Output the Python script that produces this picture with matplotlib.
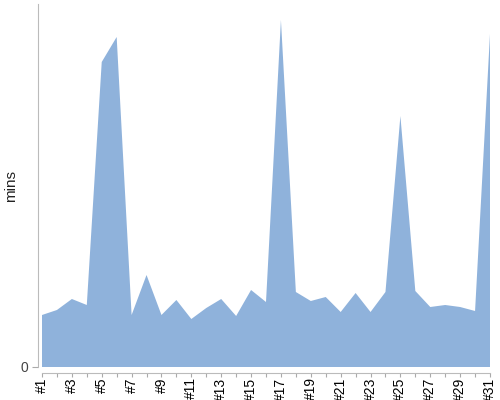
import matplotlib
matplotlib.use("Agg")
import matplotlib.pyplot as plt

plt.rcParams["font.family"] = ["Liberation Sans", "DejaVu Sans"]

# daily values (arbitrary units)
days = list(range(1, 32))
mins = [52, 57, 68, 62, 305, 330, 52, 92, 52, 67,
        48, 59, 68, 51, 77, 65, 347, 75, 66, 70,
        55, 74, 55, 75, 251, 76, 60, 62, 60, 56, 333]
tick_labels = ["#%d" % d if d % 2 == 1 else "" for d in days]

fig = plt.figure(figsize=(5, 4), dpi=100)
ax = fig.add_axes([38 / 500, 33 / 400, 454 / 500, 363 / 400])

ax.fill_between(days, mins, 0, facecolor="#8fb2db", edgecolor="none")

ax.set_xlim(1 - 4 / 14.933, 31 + 2 / 14.933)
ax.set_ylim(0, 363)

ax.set_xticks(days)
ax.set_xticklabels(tick_labels, fontsize=6, color="#222222")
ax.set_yticks([0])
ax.set_yticklabels(["0"], fontsize=10, color="#444444")

ax.tick_params(axis="x", length=3, width=0.8, color="#aaaaaa", pad=0.5,
               labelrotation=90)
ax.tick_params(axis="y", length=4, width=0.8, color="#aaaaaa", pad=3)

for s in ["top", "right"]:
    ax.spines[s].set_visible(False)
ax.spines["left"].set_color("#bbbbbb")
ax.spines["bottom"].set_color("#bbbbbb")
ax.spines["bottom"].set_position(("outward", 4))
ax.spines["bottom"].set_bounds(1, 31)

ax.set_ylabel("mins", fontsize=11, color="#222222")
ax.yaxis.set_label_coords(-20 / 454, 0.5)

fig.savefig("out.png", dpi=100)
